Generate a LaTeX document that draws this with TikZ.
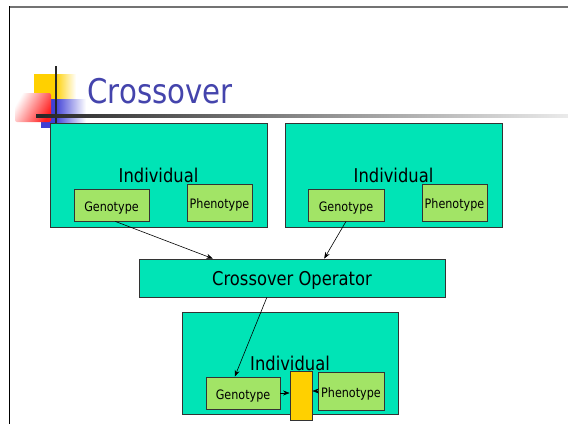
\documentclass[tikz,border=0pt]{standalone}
\usepackage{fontspec}
\setmainfont{DejaVu Sans}[FakeStretch=0.86]
\usetikzlibrary{calc, arrows.meta}

\definecolor{slideteal}{RGB}{0,228,182}
\definecolor{slidegreen}{RGB}{162,228,102}
\definecolor{slidetitle}{RGB}{68,68,172}
\definecolor{slideyellow}{RGB}{255,208,0}
\definecolor{slidered}{RGB}{255,30,30}
\definecolor{slideblue}{RGB}{64,64,214}

\begin{document}
\begin{tikzpicture}[x=1pt, y=-1pt,
    box/.style={draw=black!80, fill=slideteal, line width=0.8pt, inner sep=0pt,
        text depth=0pt, font=\fontsize{19}{22}\selectfont},
    part/.style={draw=black!80, fill=slidegreen, line width=0.8pt, inner sep=0pt,
        text height=12pt, text depth=0pt, font=\fontsize{13}{15}\selectfont},
    link/.style={-{Stealth[length=6.5pt, width=5pt]}, line width=0.6pt}]

    \useasboundingbox (0,0) rectangle (568,424);

    % Slide frame
    \draw[black!55, line width=2pt] (9,6.5) -- (568,6.5);
    \draw[black, line width=1.5pt] (9.5,6) -- (9.5,424);

    % Title decoration
    \fill[slideyellow] (34,74) rectangle (55,103);
    \shade[left color=slideyellow, right color=white] (55,74) rectangle (76,103);
    \fill[slideblue] (41,99) rectangle (55,128);
    \shade[left color=slideblue, right color=white] (55,99) rectangle (86,122);
    \shade[rounded corners=2pt, left color=white, right color=slidered, shading angle=60]
        (15,93) rectangle (51,122);
    \fill[black!85] (54.5,66) rectangle (56.5,128);
    \shade[left color=black!85, right color=black!8] (36,114.5) rectangle (568,117.5);

    \node[anchor=base west, text=slidetitle, font=\fontsize{34}{40}\selectfont]
        (title) at (84,103) {Crossover};

    % Parents
    \node[box, minimum width=217, minimum height=104] (ind1) at (158.5,175) {Individual};
    \node[part, minimum width=75, minimum height=32] (geno1) at (111.5,205) {Genotype};
    \node[part, minimum width=65, minimum height=37] (pheno1) at (219.5,202.5) {Phenotype};

    \node[box, minimum width=217, minimum height=104] (ind2) at (393.5,175) {Individual};
    \node[part, minimum width=76, minimum height=32] (geno2) at (346,205) {Genotype};
    \node[part, minimum width=65, minimum height=37] (pheno2) at (454.5,202.5) {Phenotype};

    % Operator
    \node[box, minimum width=306, minimum height=38] (op) at (292,278) {Crossover Operator};

    % Child
    \node[box, minimum width=216, minimum height=102] (ind3) at (290,363) {Individual};
    \node[part, minimum width=74, minimum height=32] (geno3) at (243,393) {Genotype};
    \node[draw=black!80, fill=slideyellow, line width=0.8pt, minimum width=22,
        minimum height=49] (plug) at (301,395.5) {};
    \node[part, minimum width=66, minimum height=38] (pheno3) at (351,391) {Phenotype};

    \draw[link] ($(geno1.south west)!0.55!(geno1.south east)$)
        -- ($(op.north west)!0.242!(op.north east)$);
    \draw[link] (geno2.south) -- ($(op.north west)!0.605!(op.north east)$);
    \draw[link] ($(op.south west)!0.418!(op.south east)$)
        -- ($(geno3.north west)!0.39!(geno3.north east)$);
    \draw[link] (geno3.east) -- (geno3.east -| plug.west);
    \draw[link] (pheno3.west) -- (pheno3.west -| plug.east);

\end{tikzpicture}
\end{document}
